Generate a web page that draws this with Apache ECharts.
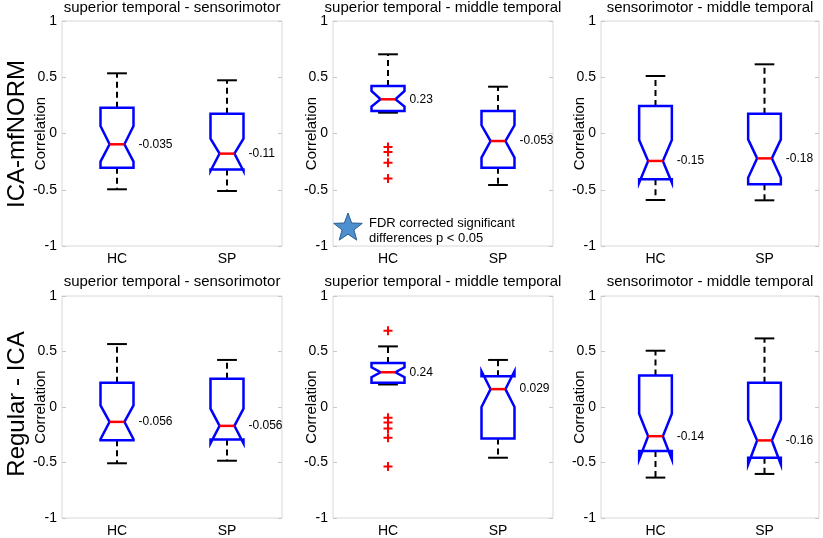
<!DOCTYPE html>
<html><head><meta charset="utf-8">
<script src="https://cdn.jsdelivr.net/npm/echarts@6/dist/echarts.min.js"></script>
<style>html,body{margin:0;padding:0;background:#fff}#c{width:823px;height:538px}</style>
</head><body><div id="c"></div>
<script>
// ---------------- data ----------------
const groups = ['HC', 'SP'];
const yTickLabels = ['-1', '-0.5', '0', '0.5', '1'];
const yAxisName = 'Correlation';
const rowLabels = ['ICA-mfNORM', 'Regular - ICA'];
const panelTitles = [
  'superior temporal - sensorimotor', 'superior temporal - middle temporal', 'sensorimotor - middle temporal',
  'superior temporal - sensorimotor', 'superior temporal - middle temporal', 'sensorimotor - middle temporal'
];
const legendText = 'FDR corrected significant\ndifferences p < 0.05';

// each group: [lower whisker, q1, notch low, median, notch high, q3, upper whisker]
const statsTopLeft  = [[-0.496, -0.304, -0.250, -0.096,  0.067, 0.230, 0.535],
                       [-0.511, -0.319, -0.333, -0.179, -0.046, 0.176, 0.473]];
const statsTopMid   = [[ 0.185,  0.200,  0.239,  0.304,  0.378, 0.422, 0.704],
                       [-0.458, -0.304, -0.215, -0.067,  0.073, 0.200, 0.416]];
const statsTopRight = [[-0.591, -0.407, -0.437, -0.244, -0.058, 0.244, 0.511],
                       [-0.594, -0.452, -0.393, -0.221, -0.052, 0.176, 0.615]];
const statsBotLeft  = [[-0.507, -0.299, -0.290, -0.134,  0.015, 0.218, 0.567],
                       [-0.484, -0.293, -0.328, -0.170, -0.015, 0.254, 0.424]];
const statsBotMid   = [[ 0.203,  0.218,  0.269,  0.313,  0.358, 0.397, 0.546],
                       [-0.457, -0.284,  0.000,  0.161,  0.322, 0.278, 0.424]];
const statsBotRight = [[-0.636, -0.397, -0.472, -0.263, -0.060, 0.284, 0.507],
                       [-0.603, -0.457, -0.516, -0.301, -0.113, 0.218, 0.618]];

const medianLabelsTopLeft  = ['-0.035', '-0.11'];
const medianLabelsTopMid   = ['0.23', '-0.053'];
const medianLabelsTopRight = ['-0.15', '-0.18'];
const medianLabelsBotLeft  = ['-0.056', '-0.056'];
const medianLabelsBotMid   = ['0.24', '0.029'];
const medianLabelsBotRight = ['-0.14', '-0.16'];

// outliers per group [HC, SP]
const outliersTopMid = [[-0.120, -0.165, -0.260, -0.400], []];
const outliersBotMid = [[0.687, -0.096, -0.140, -0.194, -0.278, -0.537], []];

// ---------------- layout ----------------
const panelStats = [statsTopLeft, statsTopMid, statsTopRight, statsBotLeft, statsBotMid, statsBotRight];
const panelLabels = [medianLabelsTopLeft, medianLabelsTopMid, medianLabelsTopRight, medianLabelsBotLeft, medianLabelsBotMid, medianLabelsBotRight];
const panelOutliers = [null, outliersTopMid, null, null, outliersBotMid, null];

const gridLefts = [62, 333, 601];
const gridWidths = [220, 220, 218];
const gridTops = [21, 296];
const gridHeights = [225, 224];
const FONT = "'Liberation Sans', Arial, Helvetica, sans-serif";

function makeRender(labels) {
  return function (params, api) {
    const cat = api.value(0);
    const wlo = api.value(1), q1 = api.value(2), nlo = api.value(3), med = api.value(4),
          nhi = api.value(5), q3 = api.value(6), whi = api.value(7);
    const band = api.size([1, 0])[0];
    const cx = api.coord([cat, 0])[0];
    const Y = v => api.coord([cat, v])[1];
    const hw = band * 0.15;
    const L = cx - hw, R = cx + hw;
    const nl = cx - hw * 0.45, nr = cx + hw * 0.45;
    const cw = hw * 0.6;
    const dash = { stroke: '#000', lineWidth: 2, lineDash: [6, 4] };
    const solid = { stroke: '#000', lineWidth: 2 };
    return {
      type: 'group',
      children: [
        { type: 'line', shape: { x1: cx, y1: Y(q3), x2: cx, y2: Y(whi) }, style: dash },
        { type: 'line', shape: { x1: cx, y1: Y(q1), x2: cx, y2: Y(wlo) }, style: dash },
        { type: 'line', shape: { x1: cx - cw, y1: Y(whi), x2: cx + cw, y2: Y(whi) }, style: solid },
        { type: 'line', shape: { x1: cx - cw, y1: Y(wlo), x2: cx + cw, y2: Y(wlo) }, style: solid },
        { type: 'polygon', shape: { points: [
            [L, Y(q1)], [L, Y(nlo)], [nl, Y(med)], [L, Y(nhi)], [L, Y(q3)],
            [R, Y(q3)], [R, Y(nhi)], [nr, Y(med)], [R, Y(nlo)], [R, Y(q1)]
          ] },
          style: { fill: 'none', stroke: '#0000ff', lineWidth: 2.5, lineJoin: 'miter' } },
        { type: 'line', shape: { x1: nl, y1: Y(med), x2: nr, y2: Y(med) }, style: { stroke: '#ff0000', lineWidth: 2.5 } },
        { type: 'text', x: R + 5, y: Y(med),
          style: { text: labels[params.dataIndex], fill: '#000', font: '12px ' + FONT, textAlign: 'left', textVerticalAlign: 'middle' } }
      ]
    };
  };
}

const grids = [], xAxes = [], yAxes = [], series = [], titles = [];
for (let p = 0; p < 6; p++) {
  const r = Math.floor(p / 3), c = p % 3;
  grids.push({ left: gridLefts[c], top: gridTops[r], width: gridWidths[c], height: gridHeights[r],
    show: true, borderColor: '#d8d8d8', borderWidth: 1, backgroundColor: '#fff' });
  xAxes.push({ type: 'category', gridIndex: p, data: groups, boundaryGap: true,
    axisLine: { show: false }, axisTick: { show: false }, splitLine: { show: false },
    axisLabel: { color: '#000', fontSize: 14, fontFamily: FONT, margin: 6 } });
  yAxes.push({ type: 'value', gridIndex: p, min: -1, max: 1, interval: 0.5, position: 'left',
    name: yAxisName, nameLocation: 'middle', nameRotate: 90, nameGap: 14, nameMoveOverlap: false,
    nameTextStyle: { color: '#000', fontSize: 15, fontFamily: FONT },
    axisLine: { show: false }, splitLine: { show: false },
    axisTick: { show: true, inside: true, length: 4, lineStyle: { color: '#c8c8c8' } },
    axisLabel: { color: '#000', fontSize: 14, fontFamily: FONT, margin: 5,
      formatter: v => yTickLabels[Math.round((v + 1) / 0.5)] } });
  yAxes.push({ type: 'value', gridIndex: p, min: -1, max: 1, interval: 0.5, position: 'right',
    axisLine: { show: false }, splitLine: { show: false }, axisLabel: { show: false },
    axisTick: { show: true, inside: true, length: 4, lineStyle: { color: '#c8c8c8' } } });
  const data = panelStats[p].map((s, i) => [i].concat(s));
  series.push({ type: 'custom', xAxisIndex: p, yAxisIndex: 2 * p, data: data,
    encode: { x: 0, y: [1, 2, 3, 4, 5, 6, 7] }, renderItem: makeRender(panelLabels[p]), z: 3 });
  if (panelOutliers[p]) {
    const od = [];
    panelOutliers[p].forEach((arr, gi) => arr.forEach(v => od.push([gi, v])));
    series.push({ type: 'scatter', xAxisIndex: p, yAxisIndex: 2 * p, data: od,
      symbol: 'path://M3.9,0H6.1V3.9H10V6.1H6.1V10H3.9V6.1H0V3.9H3.9Z', symbolSize: 9,
      itemStyle: { color: '#ff0000', opacity: 1 }, z: 4, silent: true });
  }
  titles.push({ text: panelTitles[p], left: gridLefts[c] + gridWidths[c] / 2, textAlign: 'center',
    top: r === 0 ? 0 : 274, padding: 0,
    textStyle: { color: '#000', fontSize: 15, fontWeight: 'normal', fontFamily: FONT } });
}

// star polygon for the legend marker
const starPts = [];
for (let k = 0; k < 10; k++) {
  const rad = k % 2 === 0 ? 15 : 6.2;
  const a = -Math.PI / 2 + k * Math.PI / 5;
  starPts.push([rad * Math.cos(a), rad * Math.sin(a)]);
}

const option = {
  backgroundColor: '#fff',
  animation: false,
  title: titles,
  grid: grids, xAxis: xAxes, yAxis: yAxes, series: series,
  graphic: [
    { type: 'text', x: 17, y: 134, rotation: Math.PI / 2,
      style: { text: rowLabels[0], fill: '#000', font: '24px ' + FONT, textAlign: 'center', textVerticalAlign: 'middle' } },
    { type: 'text', x: 17, y: 404, rotation: Math.PI / 2,
      style: { text: rowLabels[1], fill: '#000', font: '24px ' + FONT, textAlign: 'center', textVerticalAlign: 'middle' } },
    { type: 'polygon', x: 348, y: 228, shape: { points: starPts },
      style: { fill: '#4e8fd0', stroke: '#2d5f92', lineWidth: 1 }, z: 10 },
    { type: 'text', x: 369, y: 231, z: 10,
      style: { text: legendText, fill: '#000', font: '13px ' + FONT, lineHeight: 15, textAlign: 'left', textVerticalAlign: 'middle' } }
  ]
};
echarts.init(document.getElementById('c'), null, { renderer: 'canvas' }).setOption(option);
</script>
</body></html>
